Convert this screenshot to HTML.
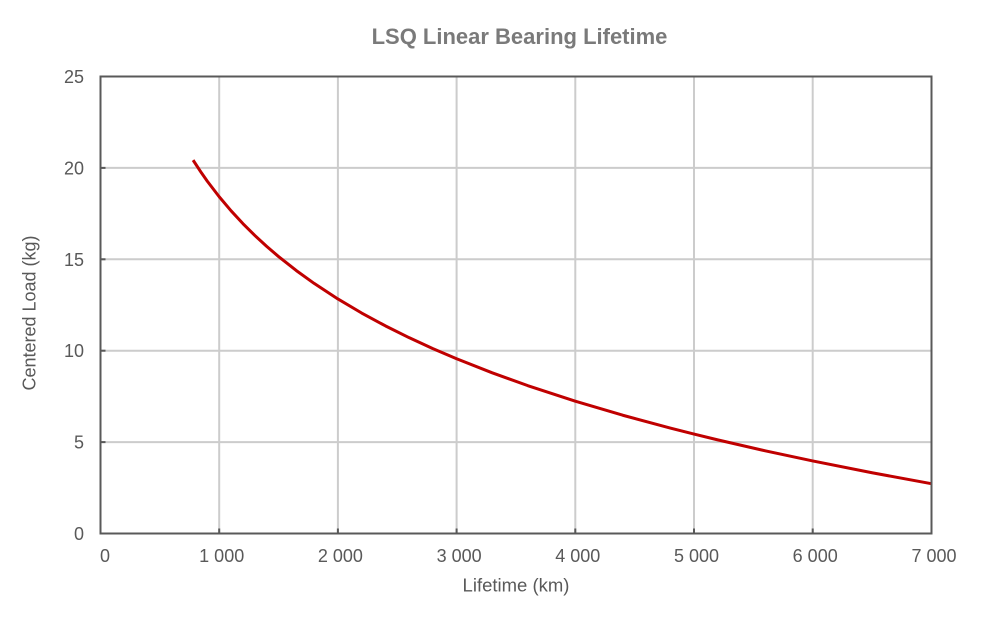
<!DOCTYPE html>
<html>
<head>
<meta charset="utf-8">
<style>
  html, body { margin: 0; padding: 0; background: #ffffff; }
  svg { display: block; }
  text { font-family: "Liberation Sans", Arial, sans-serif; }
</style>
</head>
<body>
<svg width="1006" height="641" viewBox="0 0 1006 641" xmlns="http://www.w3.org/2000/svg">
  <rect x="0" y="0" width="1006" height="641" fill="#ffffff"/>

  <!-- Title -->
  <text x="519.5" y="44" text-anchor="middle" font-size="22" font-weight="bold" fill="#7a7a7a">LSQ Linear Bearing Lifetime</text>

  <!-- Gridlines -->
  <g stroke="#cccccc" stroke-width="2" fill="none">
    <line x1="219.2" y1="76.5" x2="219.2" y2="533.5"/>
    <line x1="337.9" y1="76.5" x2="337.9" y2="533.5"/>
    <line x1="456.6" y1="76.5" x2="456.6" y2="533.5"/>
    <line x1="575.3" y1="76.5" x2="575.3" y2="533.5"/>
    <line x1="694.0" y1="76.5" x2="694.0" y2="533.5"/>
    <line x1="812.7" y1="76.5" x2="812.7" y2="533.5"/>
    <line x1="100.5" y1="167.9" x2="931.5" y2="167.9"/>
    <line x1="100.5" y1="259.3" x2="931.5" y2="259.3"/>
    <line x1="100.5" y1="350.7" x2="931.5" y2="350.7"/>
    <line x1="100.5" y1="442.1" x2="931.5" y2="442.1"/>
  </g>

  <!-- Curve -->
  <polyline fill="none" stroke="#c00000" stroke-width="3" stroke-linejoin="round"
    points="193.09,160.13 201.40,172.80 207.33,181.23 219.2,196.77 231.07,210.83 242.94,223.65 254.81,235.45 266.68,246.38 278.55,256.55 296.36,270.60 314.16,283.43 337.9,298.97 361.64,313.02 385.38,325.85 409.12,337.66 432.86,348.59 456.6,358.76 492.21,372.81 527.82,385.64 575.3,401.17 622.78,415.24 670.26,428.07 694.0,434.08 717.74,439.86 765.22,450.79 812.7,460.96 872.05,472.77 931.4,483.70"/>

  <!-- Axes frame -->
  <rect x="100.5" y="76.5" width="831" height="457" fill="none" stroke="#595959" stroke-width="2"/>

  <!-- Ticks -->
  <g stroke="#595959" stroke-width="2">
    <line x1="100.5" y1="167.9" x2="105.5" y2="167.9"/>
    <line x1="100.5" y1="259.3" x2="105.5" y2="259.3"/>
    <line x1="100.5" y1="350.7" x2="105.5" y2="350.7"/>
    <line x1="100.5" y1="442.1" x2="105.5" y2="442.1"/>
    <line x1="219.2" y1="533.5" x2="219.2" y2="528.5"/>
    <line x1="337.9" y1="533.5" x2="337.9" y2="528.5"/>
    <line x1="456.6" y1="533.5" x2="456.6" y2="528.5"/>
    <line x1="575.3" y1="533.5" x2="575.3" y2="528.5"/>
    <line x1="694.0" y1="533.5" x2="694.0" y2="528.5"/>
    <line x1="812.7" y1="533.5" x2="812.7" y2="528.5"/>
  </g>

  <!-- Y tick labels -->
  <g font-size="18" fill="#595959" text-anchor="end">
    <text x="84" y="83">25</text>
    <text x="84" y="174.4">20</text>
    <text x="84" y="265.8">15</text>
    <text x="84" y="357.2">10</text>
    <text x="84" y="448.6">5</text>
    <text x="84" y="540">0</text>
  </g>

  <!-- X tick labels -->
  <g font-size="18" fill="#595959" text-anchor="middle">
    <text x="100" y="562" text-anchor="start">0</text>
    <text x="221.7" y="562">1 000</text>
    <text x="340.4" y="562">2 000</text>
    <text x="459.1" y="562">3 000</text>
    <text x="577.8" y="562">4 000</text>
    <text x="696.5" y="562">5 000</text>
    <text x="815.2" y="562">6 000</text>
    <text x="934" y="562">7 000</text>
  </g>

  <!-- Axis titles -->
  <text x="516" y="591.5" text-anchor="middle" font-size="18.5" fill="#595959">Lifetime (km)</text>
  <text x="0" y="0" transform="translate(35.5,313) rotate(-90)" text-anchor="middle" font-size="18" fill="#595959">Centered Load (kg)</text>
</svg>
</body>
</html>
